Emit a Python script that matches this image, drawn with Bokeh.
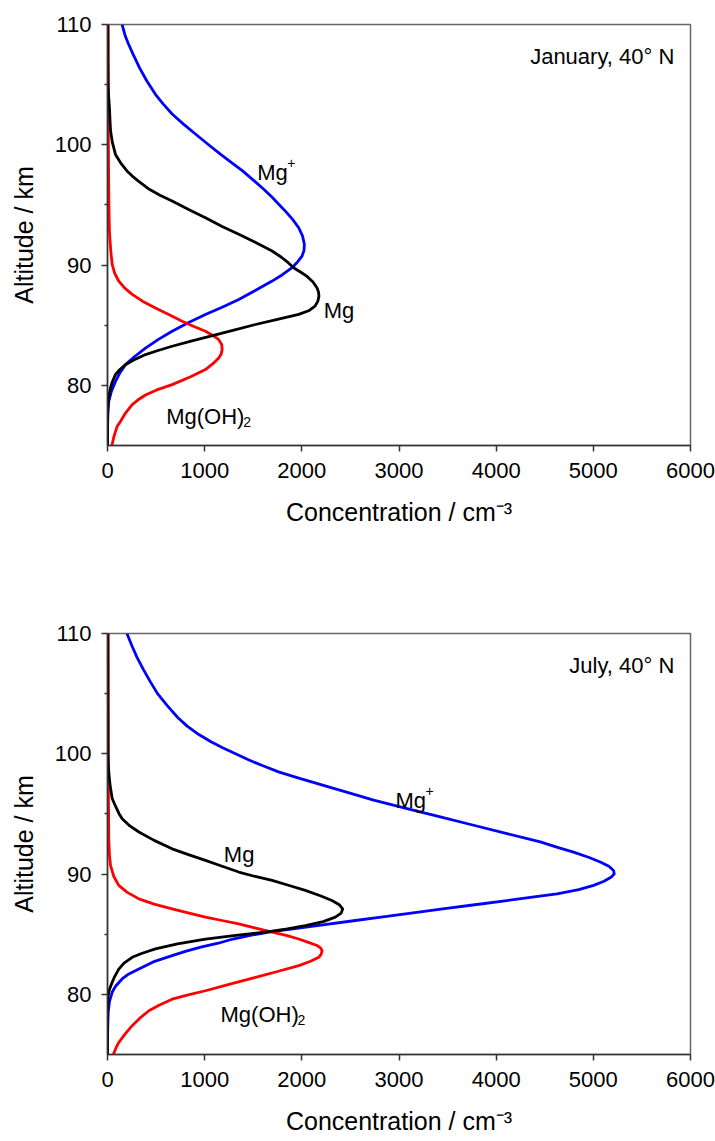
from bokeh.plotting import figure
from bokeh.layouts import column
from bokeh.models import Range1d, FixedTicker
from bokeh.core.properties import value
from bokeh.embed import file_html
from bokeh.resources import INLINE

FONT = "Liberation Sans"

# ---------------- January, 40 N ----------------
jan_mgp_alt = [110.0, 109.0, 108.4, 107.5, 106.4, 105.3, 104.2, 103.4, 102.56, 101.7, 100.9, 100.0,
               99.2, 98.5, 97.83, 97.0, 96.3, 95.6, 95.06, 94.4, 93.8, 93.1, 92.4, 91.72,
               91.2, 90.75, 90.3, 89.78, 89.2, 88.67, 87.9, 87.14, 86.5, 85.89, 85.2, 84.5,
               83.8, 83.1, 82.4, 81.72, 81.0, 80.33, 79.5, 78.67, 77.8, 77.0, 75.0]
jan_mgp_val = [150, 185, 215, 265, 330, 405, 493, 572, 665, 785, 905, 1040,
               1165, 1280, 1390, 1510, 1608, 1700, 1762, 1840, 1905, 1968, 2008, 2026,
               2022, 2002, 1960, 1900, 1800, 1694, 1525, 1351, 1180, 1008, 830, 665,
               520, 391, 280, 185, 125, 82, 40, 13, 5, 2, 0]

jan_mg_alt = [110.0, 107.0, 105.0, 104.0, 103.1, 102.0, 101.2, 100.2, 99.2, 98.5, 97.83, 97.4,
              97.0, 96.3, 95.8, 95.33, 94.6, 93.94, 93.2, 92.56, 91.9, 91.17, 90.65, 90.2,
              89.78, 89.4, 89.08, 88.6, 88.1, 87.75, 87.42, 87.0, 86.58, 86.2, 85.9, 85.5,
              85.06, 84.6, 84.2, 83.7, 83.25, 82.9, 82.56, 82.1, 81.72, 81.3, 80.9, 80.3,
              79.8, 79.0, 78.1, 77.0, 75.0]
jan_mg_val = [2, 3, 6, 12, 20, 26, 31, 50, 82, 135, 200, 255,
              315, 430, 540, 665, 840, 1008, 1180, 1351, 1520, 1694, 1790, 1860,
              1915, 1990, 2050, 2115, 2157, 2172, 2176, 2165, 2135, 2070, 1968, 1760,
              1523, 1300, 1111, 870, 665, 520, 391, 270, 185, 125, 82, 50,
              31, 12, 3, 0, 0]

jan_oh_alt = [110.0, 105.0, 100.0, 97.0, 95.0, 94.0, 92.8, 91.8, 91.0, 90.06, 89.3, 88.67,
              88.1, 87.56, 87.0, 86.44, 85.9, 85.33, 84.9, 84.5, 84.15, 83.8, 83.4, 82.97,
              82.6, 82.28, 81.8, 81.31, 80.7, 80.06, 79.6, 79.2, 78.8, 78.4, 77.7, 77.0,
              76.6, 75.8, 75.0]
jan_oh_val = [8, 8, 9, 12, 15, 17, 20, 28, 36, 48, 75, 116,
              175, 254, 360, 493, 630, 768, 890, 1008, 1085, 1145, 1175, 1180,
              1170, 1145, 1085, 1008, 850, 665, 500, 391, 315, 254, 185, 133,
              100, 68, 45]

# ---------------- July, 40 N ----------------
jul_mgp_alt = [110.0, 109.0, 108.0, 107.0, 106.0, 105.0, 104.0, 103.0, 102.3, 101.6, 101.0, 100.5,
               100.0, 99.5, 99.0, 98.5, 98.0, 97.5, 97.0, 96.56, 96.14, 95.44, 94.75, 94.06,
               93.36, 92.67, 92.2, 91.83, 91.4, 91.0, 90.65, 90.3, 90.0, 89.75, 89.4, 89.06,
               88.7, 88.36, 88.1, 87.8, 87.45, 87.1, 86.75, 86.4, 86.14, 85.7, 85.17, 84.9,
               84.6, 84.25, 83.92, 83.6, 83.22, 82.7, 82.1, 81.7, 81.28, 80.7, 80.17, 79.4,
               78.5, 77.0, 75.0]
jul_mgp_val = [200, 250, 305, 370, 440, 515, 615, 725, 820, 940, 1065, 1185,
               1318, 1450, 1600, 1760, 1960, 2170, 2380, 2565, 2739, 3083, 3425, 3768,
               4111, 4454, 4640, 4796, 4950, 5071, 5160, 5208, 5215, 5185, 5110, 5003,
               4850, 4626, 4390, 4110, 3780, 3450, 3125, 2795, 2551, 2140, 1659, 1470,
               1290, 1140, 960, 810, 665, 470, 323, 220, 150, 85, 48, 20,
               7, 2, 0]

jul_mg_alt = [110.0, 105.0, 100.0, 99.0, 98.5, 97.5, 96.8, 96.28, 95.6, 95.0, 94.6, 94.0,
              93.5, 92.8, 92.1, 91.6, 91.14, 90.65, 90.17, 89.8, 89.47, 89.05, 88.64, 88.2,
              87.8, 87.45, 87.1, 86.75, 86.42, 86.05, 85.72, 85.45, 85.22, 84.9, 84.6, 84.2,
              83.78, 83.4, 83.08, 82.6, 82.1, 81.5, 81.0, 80.4, 79.9, 79.0, 78.0, 75.0]
jul_mg_val = [2, 3, 5, 9, 13, 25, 38, 48, 85, 120, 151, 230,
              323, 480, 665, 840, 1008, 1180, 1351, 1520, 1694, 1870, 2036, 2190,
              2310, 2385, 2420, 2405, 2345, 2220, 2036, 1850, 1659, 1320, 1008, 720,
              493, 350, 254, 170, 116, 75, 48, 20, 7, 2, 0, 0]

jul_oh_alt = [110.0, 100.0, 98.5, 95.0, 92.94, 91.6, 90.72, 89.8, 89.06, 88.5, 87.94, 87.5,
              87.1, 86.75, 86.42, 86.14, 85.86, 85.5, 85.17, 84.9, 84.6, 84.3, 84.06, 83.85,
              83.64, 83.35, 83.08, 82.75, 82.39, 81.9, 81.42, 80.85, 80.3, 79.95, 79.6, 79.1,
              78.64, 78.0, 77.4, 76.7, 76.0, 75.5, 75.0]
jul_oh_val = [8, 8, 8, 11, 13, 20, 31, 65, 116, 200, 323, 480,
              665, 840, 1008, 1180, 1351, 1525, 1694, 1840, 1968, 2075, 2157, 2195,
              2208, 2200, 2174, 2090, 1968, 1750, 1523, 1260, 1008, 830, 665, 530,
              426, 330, 254, 180, 116, 85, 60]

x_ticks = [0, 1000, 2000, 3000, 4000, 5000, 6000]
y_ticks = [80, 90, 100, 110]
y_minor = [85, 95, 105]

COL_MGP = "#0000ff"
COL_MG = "#000000"
COL_OH = "#ff0000"


def make_panel(mgp, mg, oh, title, lab_mgp, lab_mg, lab_oh, lab_title, top, bottom):
    p = figure(frame_width=583, frame_height=421,
               min_border_left=107, min_border_right=25,
               min_border_top=top, min_border_bottom=bottom,
               x_range=Range1d(0, 6000), y_range=Range1d(75, 110),
               output_backend="svg", toolbar_location=None, tools="",
               background_fill_color="white", border_fill_color="white")
    p.xgrid.visible = False
    p.ygrid.visible = False
    p.outline_line_color = "#666666"
    p.outline_line_width = 1.5

    p.xaxis.ticker = FixedTicker(ticks=x_ticks)
    p.yaxis.ticker = FixedTicker(ticks=y_ticks, minor_ticks=y_minor)
    for ax in (p.xaxis[0], p.yaxis[0]):
        ax.axis_line_color = "#333333"
        ax.axis_line_width = 1.5
        ax.major_tick_line_color = "#333333"
        ax.major_tick_line_width = 1.5
        ax.minor_tick_line_color = "#333333"
        ax.minor_tick_line_width = 1.5
        ax.major_tick_in = 0
        ax.major_tick_out = 6
        ax.minor_tick_in = 0
        ax.major_label_text_font = FONT
        ax.major_label_text_font_size = "22px"
        ax.major_label_text_color = "#000000"
        ax.axis_label_text_font = FONT
        ax.axis_label_text_font_size = "25px"
        ax.axis_label_text_font_style = "normal"
        ax.axis_label_text_color = "#000000"
    p.xaxis.minor_tick_out = 0
    p.yaxis.minor_tick_out = 3
    p.xaxis.major_label_standoff = 11
    p.yaxis.major_label_standoff = 10
    p.xaxis.axis_label_standoff = 17
    p.yaxis.axis_label_standoff = 14
    p.xaxis.axis_label = "Concentration / cm\u207b\u00b3"
    p.yaxis.axis_label = "Altitude / km"

    p.line(mgp[1], mgp[0], line_color=COL_MGP, line_width=2.8, line_join="round")
    p.line(oh[1], oh[0], line_color=COL_OH, line_width=2.8, line_join="round")
    p.line(mg[1], mg[0], line_color=COL_MG, line_width=2.8, line_join="round")

    common = dict(text_font=value(FONT), text_baseline="alphabetic", text_color="#000000")
    # Mg+
    p.text(x=[lab_mgp[0]], y=[lab_mgp[1]], text=["Mg"], text_font_size="22px",
           text_align="left", **common)
    p.text(x=[lab_mgp[0]], y=[lab_mgp[1]], text=["+"], text_font_size="14px",
           text_align="left", x_offset=30, y_offset=-9, **common)
    # Mg
    p.text(x=[lab_mg[0]], y=[lab_mg[1]], text=["Mg"], text_font_size="22px",
           text_align="left", **common)
    # Mg(OH)2
    p.text(x=[lab_oh[0]], y=[lab_oh[1]], text=["Mg(OH)"], text_font_size="22px",
           text_align="left", **common)
    p.text(x=[lab_oh[0]], y=[lab_oh[1]], text=["2"], text_font_size="14px",
           text_align="left", x_offset=77, y_offset=5, **common)
    # title
    p.text(x=[lab_title[0]], y=[lab_title[1]], text=[title], text_font_size="22px",
           text_align="right", **common)
    return p


p1 = make_panel((jan_mgp_alt, jan_mgp_val), (jan_mg_alt, jan_mg_val), (jan_oh_alt, jan_oh_val),
                "January, 40\u00b0 N",
                (1540, 97.7), (2225, 86.2), (604, 77.4), (5833, 107.3),
                top=24, bottom=155)
p2 = make_panel((jul_mgp_alt, jul_mgp_val), (jul_mg_alt, jul_mg_val), (jul_oh_alt, jul_oh_val),
                "July, 40\u00b0 N",
                (2963, 96.14), (1197, 91.65), (1163, 78.3), (5833, 107.3),
                top=33, bottom=88)

layout = column(p1, p2, spacing=0)
open("out.html", "w").write(file_html(layout, INLINE))
